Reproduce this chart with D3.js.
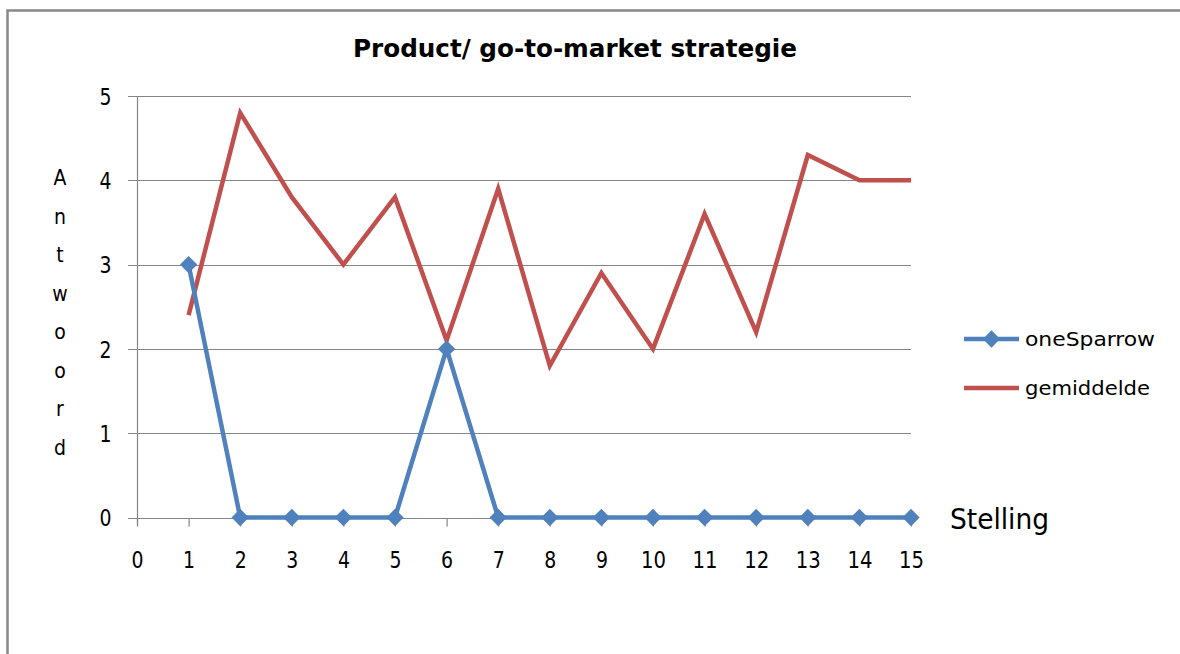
<!DOCTYPE html>
<html>
<head>
<meta charset="utf-8">
<script src="https://cdn.jsdelivr.net/npm/d3@7"></script>
<style>
  html, body { margin: 0; padding: 0; background: #fff; }
  svg { display: block; }
  text { font-family: "DejaVu Sans", Verdana, sans-serif; font-stretch: condensed; fill: #000; }
</style>
</head>
<body>
<svg id="chart" width="1180" height="654"></svg>
<script>
// Statement numbers (x axis) and the two answer series
const stellingen = [1, 2, 3, 4, 5, 6, 7, 8, 9, 10, 11, 12, 13, 14, 15];
const oneSparrow = [3, 0, 0, 0, 0, 2, 0, 0, 0, 0, 0, 0, 0, 0, 0];
const gemiddelde = [2.4, 4.8, 3.8, 3.0, 3.8, 2.1, 3.9, 1.8, 2.9, 2.0, 3.6, 2.2, 4.3, 4.0, 4.0];
const xTicks = d3.range(0, 16);
const yTicks = [0, 1, 2, 3, 4, 5];
const seriesNames = ["oneSparrow", "gemiddelde"];
const yTitle = "Antwoord";

const blue = "#4F81BD", red = "#C0504D", grid = "#868686";

const svg = d3.select("#chart");

// chart frame
svg.append("rect")
  .attr("x", 7.5).attr("y", 10.5)
  .attr("width", 1300).attr("height", 800)
  .attr("fill", "none").attr("stroke", "#888").attr("stroke-width", 2.5);

const x = d3.scaleLinear().domain([0, 15]).range([137, 911]);
const y = d3.scaleLinear().domain([0, 5]).range([517.5, 96]);

// title
svg.append("text")
  .attr("x", 575).attr("y", 57)
  .attr("text-anchor", "middle")
  .attr("font-size", 25).attr("font-weight", "bold")
  .style("font-stretch", "normal")
  .attr("textLength", 444).attr("lengthAdjust", "spacingAndGlyphs")
  .text("Product/ go-to-market strategie");

// horizontal gridlines
svg.append("g").selectAll("line").data(yTicks).join("line")
  .attr("x1", x(0) - 9).attr("x2", x(15))
  .attr("y1", d => Math.round(y(d)) + 0.5).attr("y2", d => Math.round(y(d)) + 0.5)
  .attr("stroke", grid).attr("stroke-width", 1.2);

// x axis
const xAxis = svg.append("g")
  .attr("transform", `translate(0,${Math.round(y(0)) + 0.5})`)
  .call(d3.axisBottom(x).tickValues(xTicks).tickFormat(d3.format("d")).tickSize(8).tickSizeOuter(0));
xAxis.select(".domain").remove();
xAxis.selectAll(".tick line").attr("stroke", grid).attr("stroke-width", 1.2);
xAxis.selectAll(".tick text")
  .attr("y", 49.5).attr("dy", null)
  .attr("font-size", 23).attr("font-family", null)
  .attr("textLength", d => d >= 10 ? 25 : 12).attr("lengthAdjust", "spacingAndGlyphs");

// y axis
const yAxis = svg.append("g")
  .attr("transform", `translate(${Math.round(x(0)) + 0.5},0)`)
  .call(d3.axisLeft(y).tickValues(yTicks).tickFormat(d3.format("d")).tickSize(0).tickSizeOuter(0));
yAxis.select(".domain")
  .attr("d", `M0,${y(5)}V${y(0) + 8}`)
  .attr("stroke", grid).attr("stroke-width", 1.2);
yAxis.selectAll(".tick text")
  .attr("x", -26).attr("dy", "0.36em")
  .attr("font-size", 23).attr("font-family", null)
  .attr("textLength", 12).attr("lengthAdjust", "spacingAndGlyphs");

// vertical stacked y-axis title
svg.append("g").selectAll("text").data(yTitle.split("")).join("text")
  .attr("x", 60).attr("y", (d, i) => 185 + i * 38.5)
  .attr("text-anchor", "middle")
  .attr("font-size", 21)
  .text(d => d);

// x-axis title
svg.append("text")
  .attr("x", 950).attr("y", 529)
  .attr("font-size", 28)
  .attr("textLength", 99).attr("lengthAdjust", "spacingAndGlyphs")
  .text("Stelling");

const line = d3.line().x(d => x(d[0])).y(d => y(d[1]));
const diamond = d3.symbol(d3.symbolSquare, 150);

// gemiddelde series
svg.append("path")
  .datum(stellingen.map((s, i) => [s, gemiddelde[i]]))
  .attr("d", line)
  .attr("fill", "none").attr("stroke", red)
  .attr("stroke-width", 4.5).attr("stroke-linejoin", "miter");

// oneSparrow series with diamond markers
const spData = stellingen.map((s, i) => [s, oneSparrow[i]]);
svg.append("path")
  .datum(spData)
  .attr("d", line)
  .attr("fill", "none").attr("stroke", blue)
  .attr("stroke-width", 4.5).attr("stroke-linejoin", "round");
svg.append("g").selectAll("path").data(spData).join("path")
  .attr("d", diamond)
  .attr("transform", d => `translate(${x(d[0])},${y(d[1])}) rotate(45)`)
  .attr("fill", blue);

// legend
const legend = svg.append("g");
const lg = [
  { name: seriesNames[0], color: blue, marker: true, y: 339, w: 130 },
  { name: seriesNames[1], color: red, marker: false, y: 388, w: 125 }
];
lg.forEach(d => {
  legend.append("line")
    .attr("x1", 964).attr("x2", 1019).attr("y1", d.y).attr("y2", d.y)
    .attr("stroke", d.color).attr("stroke-width", 4.5);
  if (d.marker) {
    legend.append("path")
      .attr("d", diamond)
      .attr("transform", `translate(991.5,${d.y}) rotate(45)`)
      .attr("fill", d.color);
  }
  legend.append("text")
    .attr("x", 1025).attr("y", d.y + 7)
    .attr("font-size", 20)
    .attr("textLength", d.w).attr("lengthAdjust", "spacingAndGlyphs")
    .text(d.name);
});
</script>
</body>
</html>
